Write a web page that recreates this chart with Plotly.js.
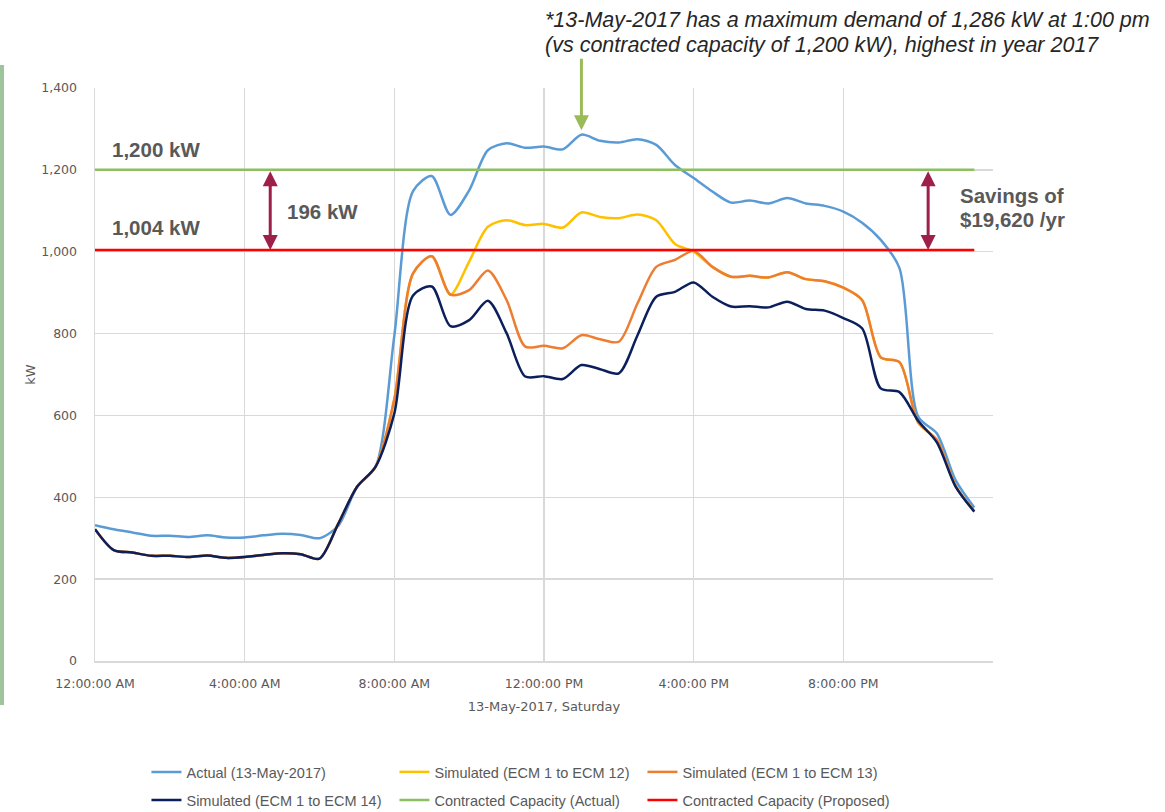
<!DOCTYPE html>
<html>
<head>
<meta charset="utf-8">
<script src="https://cdn.plot.ly/plotly-3.0.1.min.js"></script>
<style>
html,body{margin:0;padding:0;background:#fff;}
#chart{width:1165px;height:812px;}
</style>
</head>
<body>
<div id="chart"></div>
<script>
// ---- data ----
const times = [
 '2017-05-13 00:00','2017-05-13 00:30','2017-05-13 01:00','2017-05-13 01:30',
 '2017-05-13 02:00','2017-05-13 02:30','2017-05-13 03:00','2017-05-13 03:30',
 '2017-05-13 04:00','2017-05-13 04:30','2017-05-13 05:00','2017-05-13 05:30',
 '2017-05-13 06:00','2017-05-13 06:30','2017-05-13 07:00','2017-05-13 07:30',
 '2017-05-13 08:00','2017-05-13 08:30','2017-05-13 09:00','2017-05-13 09:30',
 '2017-05-13 10:00','2017-05-13 10:30','2017-05-13 11:00','2017-05-13 11:30',
 '2017-05-13 12:00','2017-05-13 12:30','2017-05-13 13:00','2017-05-13 13:30',
 '2017-05-13 14:00','2017-05-13 14:30','2017-05-13 15:00','2017-05-13 15:30',
 '2017-05-13 16:00','2017-05-13 16:30','2017-05-13 17:00','2017-05-13 17:30',
 '2017-05-13 18:00','2017-05-13 18:30','2017-05-13 19:00','2017-05-13 19:30',
 '2017-05-13 20:00','2017-05-13 20:30','2017-05-13 21:00','2017-05-13 21:30',
 '2017-05-13 22:00','2017-05-13 22:30','2017-05-13 23:00','2017-05-13 23:30'
];

const xTickTimes = [
 '2017-05-13 00:00','2017-05-13 04:00','2017-05-13 08:00',
 '2017-05-13 12:00','2017-05-13 16:00','2017-05-13 20:00'
];

const actual = [
 332,322,314,306,306,303,307,302,302,307,311,308,
 300,330,425,475,795,1148,1185,1090,1150,1248,1265,1254,
 1257,1250,1286,1271,1267,1275,1261,1212,1180,1147,1120,1125,
 1118,1131,1118,1112,1098,1071,1029,960,597,556,442,375
];

const simEcm12 = [
 322,271,265,257,257,254,258,252,254,259,263,261,
 250,335,425,475,640,947,989,895,976,1061,1077,1065,
 1068,1059,1096,1085,1082,1091,1077,1019,1000,963,939,941,
 937,950,933,928,912,882,742,730,583,540,428,366
];

const simEcm13 = [
 322,271,265,257,257,254,258,252,254,259,263,261,
 250,335,425,475,640,947,989,895,906,954,882,768,
 770,764,796,786,780,874,963,980,1002,963,939,941,
 937,950,933,928,912,882,742,730,583,540,428,366
];

const simEcm14 = [
 322,271,265,257,257,254,258,252,254,259,263,261,
 250,335,425,475,605,893,915,818,833,880,801,695,
 696,689,723,713,703,796,890,902,925,890,866,867,
 864,878,860,856,838,813,666,657,587,534,426,365
];

const contractedActual = 1200;
const contractedProposed = 1004;
const peakTime = '2017-05-13 13:00';
const peakValue = 1286;

const seriesNames = [
 'Actual (13-May-2017)',
 'Simulated (ECM 1 to ECM 12)',
 'Simulated (ECM 1 to ECM 13)',
 'Simulated (ECM 1 to ECM 14)',
 'Contracted Capacity (Actual)',
 'Contracted Capacity (Proposed)'
];

const yTicks = [0,200,400,600,800,1000,1200,1400];

// ---- styling ----
const colors = ['#5B9BD5','#FFC000','#ED7D31','#0B1F5C','#8CBF5F','#FF0000'];
const gray = '#595959';
const tickFont = {family:'DejaVu Sans, sans-serif', size:12.5, color:gray};
const legFont = {family:'Liberation Sans, Arial, sans-serif', size:14.5, color:gray};
const bold = {family:'Liberation Sans, Arial, sans-serif', size:20.5, color:gray, weight:'bold'};
const noteFont = {family:'Liberation Sans, Arial, sans-serif', size:21.5, color:'#262626'};

const firstT = times[0], lastT = times[times.length-1];

function tr(y, i, legend, x){
  return {
    x: x || times, y: y, type:'scatter', mode:'lines', name: seriesNames[i],
    line:{color:colors[i], width:2.5, shape: x ? 'linear' : 'spline', smoothing:0.8},
    legend: legend, hoverinfo:'skip'
  };
}

const data = [
  tr(actual, 0, 'legend'),
  tr(simEcm12, 1, 'legend'),
  tr(simEcm13, 2, 'legend'),
  tr(simEcm14, 3, 'legend2'),
  tr([contractedActual, contractedActual], 4, 'legend2', [firstT, lastT]),
  tr([contractedProposed, contractedProposed], 5, 'legend2', [firstT, lastT])
];

const arrowColor = '#9E1F48';

function txt(x, y, text, font, anchor){
  return {xref:'paper', yref:'paper', x:x, y:y, xanchor:anchor||'left', yanchor:'middle',
          align:'left', text:text, showarrow:false, font:font};
}

const legCommon = {
  orientation:'h', xanchor:'left', yanchor:'top', xref:'paper', yref:'container',
  entrywidth:203, entrywidthmode:'pixels', font:legFont, traceorder:'normal',
  bgcolor:'rgba(0,0,0,0)'
};

const layout = {
  width:1165, height:812,
  margin:{l:95, r:172, t:88, b:151},
  paper_bgcolor:'#fff', plot_bgcolor:'#fff',
  showlegend:true,
  xaxis:{
    type:'date', automargin:false,
    range:['2017-05-13 00:00','2017-05-14 00:00'],
    tickmode:'array', tickvals:xTickTimes,
    tickformat:'%-I:%M:%S %p',
    showgrid:true, gridcolor:'#d9d9d9', gridwidth:1.5,
    showline:true, linecolor:'#d9d9d9', linewidth:1.5,
    zeroline:false, ticks:'', tickfont:tickFont, ticklabelstandoff:10,
    title:{text:'13-May-2017, Saturday', font:{family:'DejaVu Sans, sans-serif', size:13, color:gray}, standoff:12},
    fixedrange:true
  },
  yaxis:{
    automargin:false,
    range:[0,1400], tickvals:yTicks, tickformat:',d',
    showgrid:true, gridcolor:'#d9d9d9', gridwidth:1.5,
    showline:true, linecolor:'#d9d9d9', linewidth:1.5,
    zeroline:false, ticks:'', tickfont:tickFont, ticklabelstandoff:14,
    title:{text:'kW', font:{family:'DejaVu Sans, sans-serif', size:13, color:gray}, standoff:2},
    fixedrange:true
  },
  legend: Object.assign({}, legCommon, {x:0.0573, y:0.069}),
  legend2: Object.assign({}, legCommon, {x:0.0573, y:0.0345}),
  shapes:[
    {type:'rect', xref:'paper', yref:'paper', x0:-0.1058, x1:-0.1013, y0:-0.077, y1:1.04,
     fillcolor:'#9DC49A', line:{width:0}, layer:'below'}
  ],
  annotations:[
    txt(0.0167, 0.892, '1,200 kW', bold),
    txt(0.0167, 0.756, '1,004 kW', bold),
    txt(0.2116, 0.785, '196 kW', bold),
    txt(0.961, 0.813, 'Savings of', bold),
    txt(0.961, 0.770, '$19,620 /yr', bold),
    txt(0.499, (661-20)/573, '<i>*13-May-2017 has a maximum demand of 1,286 kW at 1:00 pm</i>', noteFont),
    txt(0.499, (661-45)/573, '<i>(vs contracted capacity of 1,200 kW), highest in year 2017</i>', noteFont),
    // double arrows
    {x:'2017-05-13 04:41', y:contractedProposed, ax:'2017-05-13 04:41', ay:contractedActual,
     xref:'x', yref:'y', axref:'x', ayref:'y', text:'', showarrow:true,
     arrowside:'end+start', arrowhead:2, startarrowhead:2, arrowsize:1, startarrowsize:1,
     arrowwidth:3, arrowcolor:arrowColor, standoff:0, startstandoff:0},
    {x:'2017-05-13 22:16', y:contractedProposed, ax:'2017-05-13 22:16', ay:contractedActual,
     xref:'x', yref:'y', axref:'x', ayref:'y', text:'', showarrow:true,
     arrowside:'end+start', arrowhead:2, startarrowhead:2, arrowsize:1, startarrowsize:1,
     arrowwidth:3, arrowcolor:arrowColor, standoff:0, startstandoff:0},
    // peak arrow
    {x:peakTime, y:peakValue + 11, xref:'x', yref:'y', ax:0, ay:-73, text:'', showarrow:true,
     arrowhead:2, arrowsize:1, arrowwidth:3, arrowcolor:'#9BBB59', standoff:0}
  ]
};

Plotly.newPlot('chart', data, layout, {displayModeBar:false, staticPlot:true});
</script>
</body>
</html>
